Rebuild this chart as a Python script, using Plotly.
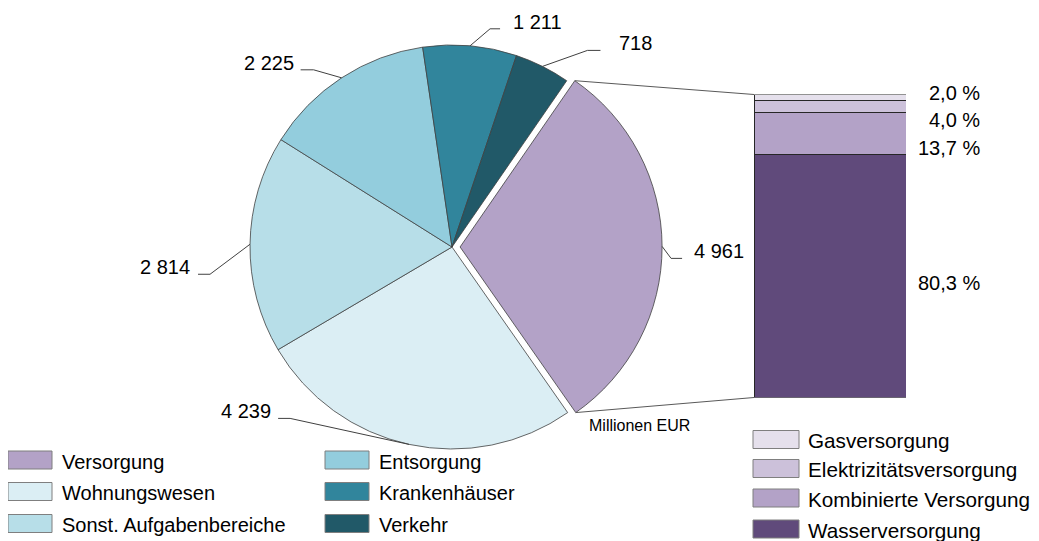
import math
import plotly.graph_objects as go

# ---------------- data ----------------
categories = ["Versorgung", "Wohnungswesen", "Sonst. Aufgabenbereiche",
              "Entsorgung", "Krankenhäuser", "Verkehr"]
values = [4961, 4239, 2814, 2225, 1211, 718]
value_labels = ["4 961", "4 239", "2 814", "2 225", "1 211", "718"]

sub_categories = ["Wasserversorgung", "Kombinierte Versorgung",
                  "Elektrizitätsversorgung", "Gasversorgung"]
sub_shares = [80.3, 13.7, 4.0, 2.0]
sub_labels = ["80,3 %", "13,7 %", "4,0 %", "2,0 %"]

unit_label = "Millionen EUR"

# ---------------- styles / layout ----------------
pie_colors = ["#B3A2C7", "#DBEEF4", "#B7DEE8", "#93CDDD", "#31859C", "#215968"]
sub_colors = ["#604A7B", "#B3A2C7", "#CCC1DA", "#E5E0EC"]
FONT = "Liberation Sans, Arial, sans-serif"

VW, VH = 1039, 541       # browser window
OFF = 8                  # default page body margin
W, H = VW - OFF, VH - OFF
CX, CY, R = 452, 247, 202          # pie centre / radius in screen px
PULL = 0.04
ROT = 34.6                          # start angle of first slice (deg, clockwise from 12 o'clock)

# bar box (screen px)
BX0, BX1, BY0, BY1 = 754, 906, 94.5, 397.5

# leader-line offsets per pie label (px)
elbow_dx = [9, -119, -40, -28, 20, 45]
elbow_dy = [12, -26, 30, -8, -17, -16]
tail = [11, -12, -12, -13, 10, 13]
gap = [10, 5, 6, 5, 11, 17]

# bar label vertical shifts (px, + = up)
sub_label_shift = [-7, -15, -13, 4.5]


def px(x):
    return (x - OFF) / W


def py(y):
    return 1 - (y - OFF) / H


def unit(deg):
    a = math.radians(deg)
    return math.sin(a), -math.cos(a)


fig = go.Figure()

half = R * (1 + PULL)
pulls = [PULL] + [0] * (len(values) - 1)
fig.add_trace(go.Pie(
    labels=categories, values=values, sort=False, direction="clockwise",
    rotation=ROT, pull=pulls, textinfo="none", showlegend=False,
    hoverinfo="label+value",
    marker=dict(colors=pie_colors, line=dict(color="#404040", width=0.8)),
    domain=dict(x=[px(CX - half), px(CX + half)], y=[py(CY + half), py(CY - half)]),
))

# stacked bar
for name, share, col in zip(sub_categories, sub_shares, sub_colors):
    fig.add_trace(go.Bar(
        x=[0], y=[share], width=1, name=name, showlegend=False,
        marker=dict(color=col, line=dict(color="#262626", width=1)),
        hoverinfo="name+y",
    ))

shapes = []
annotations = []

# pie labels with leader lines
total = sum(values)
cum = 0
starts, spans = [], []
for i, v in enumerate(values):
    span = 360 * v / total
    start = ROT + 360 * cum / total
    starts.append(start)
    spans.append(span)
    cum += v
    mid = start + span / 2
    ux, uy = unit(mid)
    off = pulls[i] * R
    ex, ey = CX + off * ux + R * ux, CY + off * uy + R * uy
    bx, by = ex + elbow_dx[i], ey + elbow_dy[i]
    tx, ty = bx + tail[i], by
    shapes.append(dict(
        type="path", xref="paper", yref="paper",
        path=f"M{px(ex)},{py(ey)} L{px(bx)},{py(by)} L{px(tx)},{py(ty)}",
        line=dict(color="#404040", width=1),
    ))
    right = tail[i] > 0
    annotations.append(dict(
        text=value_labels[i], xref="paper", yref="paper",
        x=px(tx + gap[i] if right else tx - gap[i]), y=py(ty - 7),
        xanchor="left" if right else "right", yanchor="middle",
        showarrow=False, font=dict(size=20, color="black", family=FONT),
    ))

# connector lines pulled slice -> bar
ux0, uy0 = unit(starts[0] + spans[0] / 2)
ocx, ocy = CX + PULL * R * ux0, CY + PULL * R * uy0
for ang, by_ in ((starts[0], BY0), (starts[0] + spans[0], BY1)):
    ux, uy = unit(ang)
    sx, sy = ocx + R * ux, ocy + R * uy
    shapes.append(dict(type="line", xref="paper", yref="paper",
                       x0=px(sx), y0=py(sy), x1=px(BX0), y1=py(by_),
                       line=dict(color="#595959", width=1)))

# bar percentage labels
c = 0
for lab, share, sh in zip(sub_labels, sub_shares, sub_label_shift):
    annotations.append(dict(
        text=lab, xref="paper", yref="y", x=px(982), y=c + share / 2, yshift=sh,
        xanchor="right", yanchor="middle", showarrow=False,
        font=dict(size=20, color="black", family=FONT),
    ))
    c += share

# unit label
annotations.append(dict(text=unit_label, xref="paper", yref="paper",
                        x=px(639), y=py(425), xanchor="center", yanchor="middle",
                        showarrow=False, font=dict(size=16, color="black", family=FONT)))

# left legend (2 columns x 3 rows)
col_x = [8, 325]
row_y = [460, 491.5, 523.5]
for i, (name, col) in enumerate(zip(categories, pie_colors)):
    cx_ = col_x[i // 3]
    cy_ = row_y[i % 3]
    shapes.append(dict(type="rect", xref="paper", yref="paper",
                       x0=px(cx_), x1=px(cx_ + 44), y0=py(cy_ + 9), y1=py(cy_ - 9),
                       fillcolor=col, line=dict(color="#7F7F7F", width=1)))
    annotations.append(dict(text=name, xref="paper", yref="paper",
                            x=px(cx_ + 52), y=py(cy_ + 1.5), xanchor="left", yanchor="middle",
                            showarrow=False, font=dict(size=20, color="black", family=FONT)))

# right legend (sub categories, top to bottom reversed)
rrow_y = [439.5, 468.5, 498, 529]
for j, (name, col) in enumerate(zip(sub_categories[::-1], sub_colors[::-1])):
    cy_ = rrow_y[j]
    shapes.append(dict(type="rect", xref="paper", yref="paper",
                       x0=px(753), x1=px(799), y0=py(cy_ + 9), y1=py(cy_ - 9),
                       fillcolor=col, line=dict(color="#7F7F7F", width=1)))
    annotations.append(dict(text=name, xref="paper", yref="paper",
                            x=px(806), y=py(cy_ + 1), xanchor="left", yanchor="middle",
                            showarrow=False, font=dict(size=20.7, color="black", family=FONT)))

fig.update_layout(
    width=W, height=H, margin=dict(l=0, r=0, t=0, b=0),
    paper_bgcolor="white", plot_bgcolor="white",
    barmode="stack", showlegend=False,
    xaxis=dict(domain=[px(BX0), px(BX1)], range=[-0.5, 0.5], visible=False, fixedrange=True),
    yaxis=dict(domain=[py(BY1), py(BY0)], range=[0, 100], visible=False, fixedrange=True),
    shapes=shapes, annotations=annotations,
    font=dict(family=FONT, color="black"),
)

fig.write_html("out.html")
